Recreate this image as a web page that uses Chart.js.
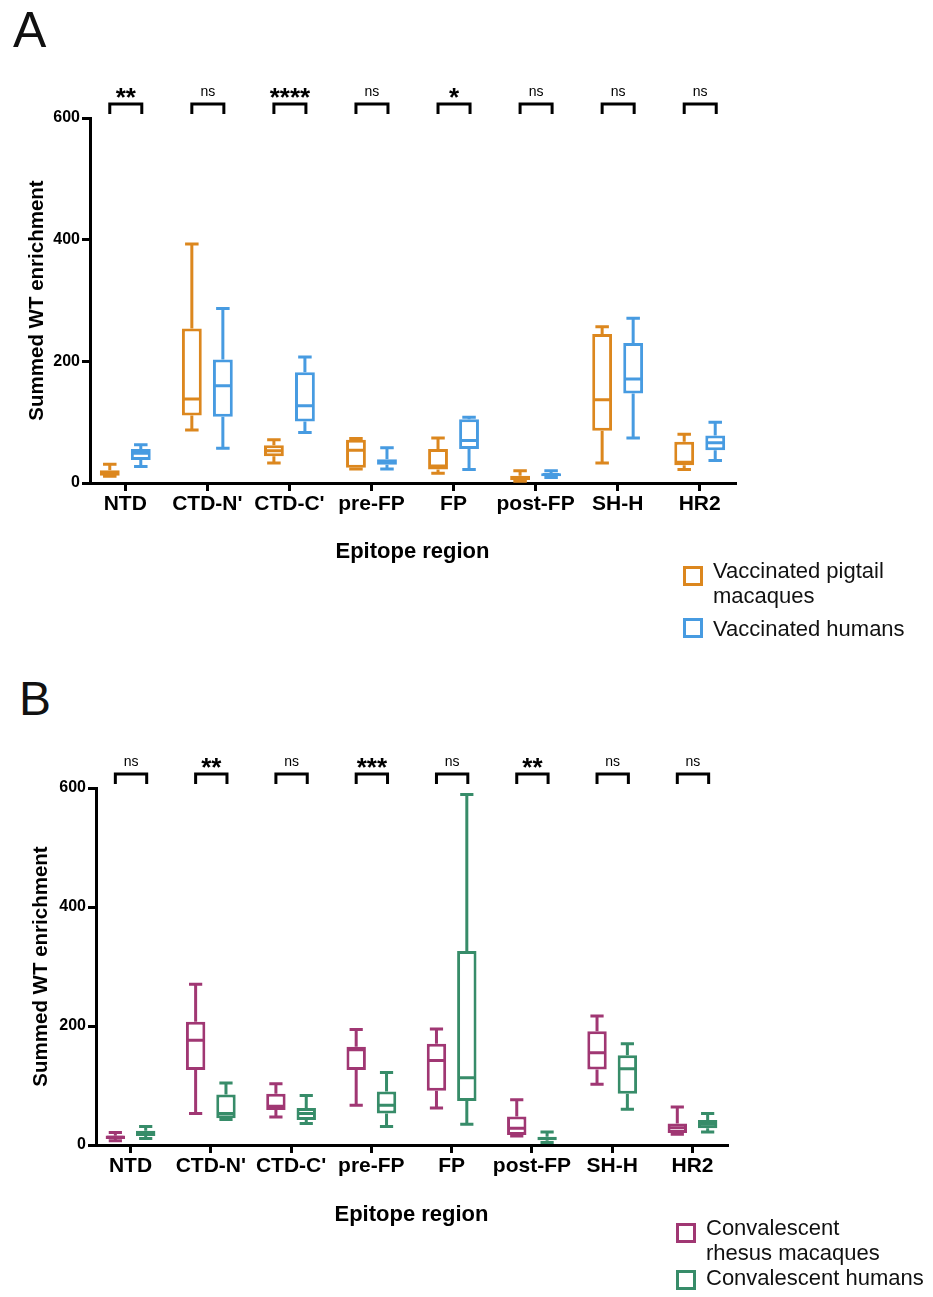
<!DOCTYPE html>
<html lang="en">
<head>
<meta charset="UTF-8">
<title>Summed WT enrichment by epitope region</title>
<script src="https://cdn.jsdelivr.net/npm/chart.js@4"></script>
<style>
  body { margin: 0; background: #fff; font-family: 'Liberation Sans', Arial, sans-serif; }
  #page { position: relative; width: 933px; height: 1297px; overflow: hidden; }
  canvas { position: absolute; left: 0; }
  .panel-letter { position: absolute; font-size: 50px; line-height: 50px; color: #111; }
  .legend { position: absolute; font-size: 22px; line-height: 25px; color: #111; white-space: nowrap; }
  .swatch { position: absolute; width: 20px; height: 20px; border: 3px solid; box-sizing: border-box; }
</style>
</head>
<body>
<div id="page">
  <!-- Panel A -->
  <div class="panel-letter" style="left:13px;top:5px">A</div>
  <canvas id="chartA" width="933" height="565" style="top:0"></canvas>
  <div class="swatch" style="left:683px;top:566px;border-color:#DC871E"></div>
  <div class="legend" style="left:713px;top:558px">Vaccinated pigtail<br>macaques</div>
  <div class="swatch" style="left:683px;top:618px;border-color:#479BE1"></div>
  <div class="legend" style="left:713px;top:616px">Vaccinated humans</div>

  <!-- Panel B -->
  <div class="panel-letter" style="left:19px;top:675px;font-size:48px;line-height:48px">B</div>
  <canvas id="chartB" width="933" height="568" style="top:660px"></canvas>
  <div class="swatch" style="left:676px;top:1223px;border-color:#A03773"></div>
  <div class="legend" style="left:706px;top:1215px">Convalescent<br>rhesus macaques</div>
  <div class="swatch" style="left:676px;top:1270px;border-color:#378C69"></div>
  <div class="legend" style="left:706px;top:1265px">Convalescent humans</div>
</div>

<script>
// categories and axis ticks
const categories = ['NTD', "CTD-N'", "CTD-C'", 'pre-FP', 'FP', 'post-FP', 'SH-H', 'HR2'];
const yTicks = [0, 200, 400, 600];

// each entry: [min, q1, median, q3, max]
const pigtailVaccinated = [
    [11, 12, 16, 21, 31],
    [87, 111, 138, 254, 393],
    [33, 44, 53, 62, 71],
    [23, 25, 54, 71, 73],
    [16, 22, 28, 56, 74],
    [3, 5, 8, 12, 20],
    [33, 86, 137, 245, 257],
    [22, 29, 34, 68, 80]
];
const humansVaccinated = [
    [27, 38, 49, 56, 63],
    [57, 109, 160, 203, 287],
    [83, 101, 127, 182, 207],
    [23, 30, 35, 39, 58],
    [22, 56, 70, 105, 108],
    [9, 11, 14, 16, 20],
    [74, 147, 171, 230, 271],
    [37, 54, 66, 78, 100]
];
const rhesusConvalescent = [
    [7, 10, 13, 16, 21],
    [53, 126, 176, 207, 270],
    [47, 59, 65, 86, 103],
    [67, 126, 160, 165, 194],
    [62, 91, 142, 170, 195],
    [15, 17, 28, 48, 76],
    [102, 127, 155, 191, 217],
    [18, 20, 29, 36, 64]
];
const humansConvalescent = [
    [11, 15, 20, 24, 31],
    [43, 45, 53, 85, 104],
    [36, 42, 53, 62, 83],
    [31, 53, 67, 90, 122],
    [35, 74, 113, 326, 589],
    [4, 8, 11, 14, 22],
    [60, 86, 128, 151, 170],
    [22, 28, 35, 42, 53]
];

// significance between the two groups
const sigA = ['**', 'ns', '****', 'ns', '*', 'ns', 'ns', 'ns'];
const sigB = ['ns', '**', 'ns', '***', 'ns', '**', 'ns', 'ns'];

Chart.defaults.font.family = "'Liberation Sans', Arial, sans-serif";
Chart.defaults.color = '#000';

// whiskers, medians and significance brackets
const boxExtras = {
    id: 'boxExtras',
    afterDatasetsDraw(chart, args, opts) {
        const ctx = chart.ctx;
        const y = chart.scales.y;
        const top = chart.chartArea.top;
        ctx.save();
        ctx.lineWidth = 3;
        ctx.lineCap = 'butt';
        chart.data.datasets.forEach((ds, di) => {
            const meta = chart.getDatasetMeta(di);
            ctx.strokeStyle = ds.borderColor;
            meta.data.forEach((bar, i) => {
                const [lo, q1, med, q3, hi] = ds.summary[i];
                const half = bar.width / 2;
                const cap = bar.width * 0.34;
                ctx.beginPath();
                ctx.moveTo(bar.x, y.getPixelForValue(q3));
                ctx.lineTo(bar.x, y.getPixelForValue(hi));
                ctx.moveTo(bar.x - cap, y.getPixelForValue(hi));
                ctx.lineTo(bar.x + cap, y.getPixelForValue(hi));
                ctx.moveTo(bar.x, y.getPixelForValue(q1));
                ctx.lineTo(bar.x, y.getPixelForValue(lo));
                ctx.moveTo(bar.x - cap, y.getPixelForValue(lo));
                ctx.lineTo(bar.x + cap, y.getPixelForValue(lo));
                ctx.moveTo(bar.x - half + 1.5, y.getPixelForValue(med));
                ctx.lineTo(bar.x + half - 1.5, y.getPixelForValue(med));
                ctx.stroke();
            });
        });

        const m0 = chart.getDatasetMeta(0).data;
        const m1 = chart.getDatasetMeta(1).data;
        ctx.strokeStyle = '#000';
        ctx.fillStyle = '#000';
        ctx.lineJoin = 'miter';
        opts.sig.forEach((s, i) => {
            const x1 = m0[i].x, x2 = m1[i].x + 1;
            ctx.beginPath();
            ctx.moveTo(x1, top - 4);
            ctx.lineTo(x1, top - 14);
            ctx.lineTo(x2, top - 14);
            ctx.lineTo(x2, top - 4);
            ctx.stroke();
            const isNs = s === 'ns';
            ctx.font = isNs ? "14px 'Liberation Sans', Arial, sans-serif" : "bold 26px 'Liberation Sans', Arial, sans-serif";
            ctx.textAlign = 'center';
            ctx.textBaseline = 'alphabetic';
            const m = ctx.measureText(s);
            const cy = isNs ? top - 26 : top - 25;
            const base = cy + (m.actualBoundingBoxAscent - m.actualBoundingBoxDescent) / 2;
            ctx.fillText(s, (x1 + x2) / 2, base);
        });
        ctx.restore();
    }
};

function makePanel(id, seriesA, seriesB, colors, sig, box) {
    const toBars = (series) => series.map((v, i) => ({ x: i, y: [v[1], v[3]] }));
    const dataset = (series, color) => ({
        data: toBars(series),
        summary: series,
        backgroundColor: '#fff',
        borderColor: color,
        borderWidth: 3,
        borderSkipped: false,
        categoryPercentage: 0.756,
        barPercentage: 0.64
    });
    return new Chart(document.getElementById(id), {
        type: 'bar',
        data: { datasets: [dataset(seriesA, colors[0]), dataset(seriesB, colors[1])] },
        plugins: [boxExtras],
        options: {
            responsive: false,
            animation: false,
            layout: { padding: { top: box.top, left: 0, right: 933 - box.right, bottom: 0 } },
            plugins: {
                legend: { display: false },
                tooltip: { enabled: false },
                boxExtras: { sig: sig }
            },
            scales: {
                x: {
                    type: 'linear',
                    min: -0.43,
                    max: 7.43,
                    offset: false,
                    afterBuildTicks: (s) => { s.ticks = categories.map((c, i) => ({ value: i })); },
                    afterFit: (s) => { s.height = box.height - box.bottom; },
                    ticks: {
                        autoSkip: false,
                        maxRotation: 0,
                        minRotation: 0,
                        padding: 1,
                        font: { size: 21, weight: 'bold' },
                        callback: (v) => categories[Math.round(v)]
                    },
                    grid: { drawOnChartArea: false, color: '#000', lineWidth: 3, tickLength: 8, offset: false },
                    border: { display: true, color: '#000', width: 3 },
                    title: {
                        display: true,
                        text: 'Epitope region',
                        font: { size: 22, weight: 'bold' },
                        padding: { top: 0, bottom: 0 }
                    }
                },
                y: {
                    min: 0,
                    max: 600,
                    afterBuildTicks: (s) => { s.ticks = yTicks.map((v) => ({ value: v })); },
                    afterFit: (s) => { s.width = box.left; },
                    ticks: { padding: 2, font: { size: 16, weight: 'bold' } },
                    grid: { drawOnChartArea: false, color: '#000', lineWidth: 3, tickLength: 8 },
                    border: { display: true, color: '#000', width: 3 },
                    title: {
                        display: true,
                        text: 'Summed WT enrichment',
                        font: { size: 20.5, weight: 'bold' },
                        padding: { top: box.titlePad, bottom: 0 }
                    }
                }
            }
        }
    });
}

makePanel('chartA', pigtailVaccinated, humansVaccinated, ['#DC871E', '#479BE1'], sigA,
    { top: 118, left: 90, right: 735, bottom: 483, height: 565, titlePad: 25 });
makePanel('chartB', rhesusConvalescent, humansConvalescent, ['#A03773', '#378C69'], sigB,
    { top: 128, left: 96, right: 727, bottom: 485, height: 568, titlePad: 29 });
</script>
</body>
</html>
